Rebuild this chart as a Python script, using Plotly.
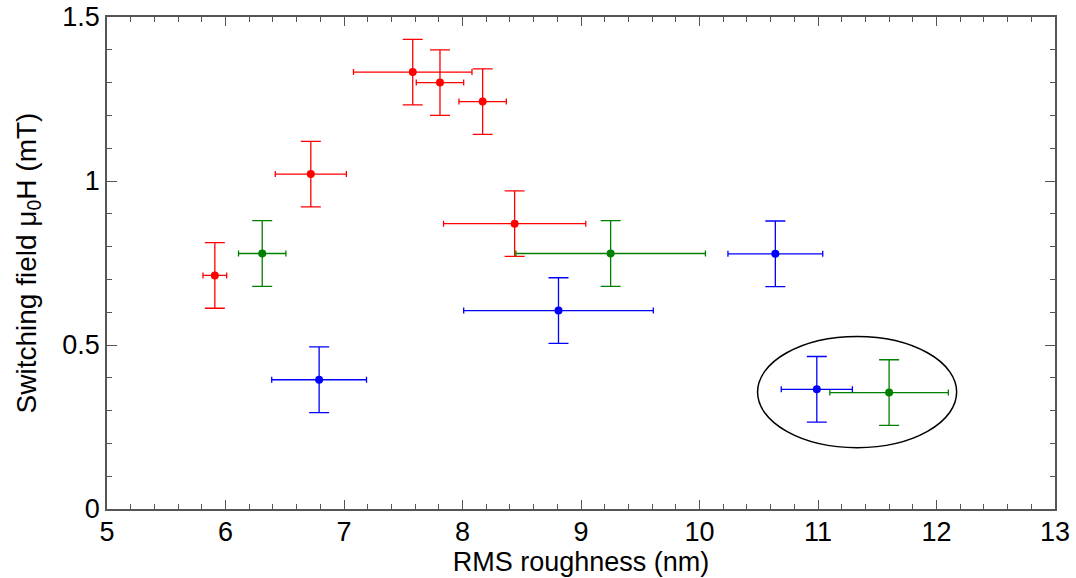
import plotly.graph_objects as go

# RMS roughness (nm) and switching field (mT) for three sample series
red_x = [5.91, 6.72, 7.58, 7.81, 8.17, 8.44]
red_y = [0.712, 1.021, 1.332, 1.300, 1.242, 0.870]
red_xerr = [0.10, 0.30, 0.50, 0.20, 0.20, 0.60]
red_yerr = [0.10, 0.10, 0.10, 0.10, 0.10, 0.10]

green_x = [6.31, 9.25, 11.60]
green_y = [0.779, 0.779, 0.355]
green_xerr = [0.20, 0.80, 0.50]
green_yerr = [0.10, 0.10, 0.10]

blue_x = [6.79, 8.81, 10.64, 10.99]
blue_y = [0.394, 0.605, 0.778, 0.365]
blue_xerr = [0.40, 0.80, 0.40, 0.30]
blue_yerr = [0.10, 0.10, 0.10, 0.10]

# Ellipse enclosing the two highest-roughness points
ellipse_x = [10.49, 12.17]
ellipse_y = [0.187, 0.526]

x_range = [5, 13]
y_range = [0, 1.5]
x_ticks = [5, 6, 7, 8, 9, 10, 11, 12, 13]
y_ticks = [0, 0.5, 1, 1.5]
y_ticklabels = ["0", "0.5", "1", "1.5"]

FONT = "Liberation Sans, Arial, sans-serif"
AXIS_GREY = "#555555"

fig = go.Figure()


def add_series(xs, ys, xe, ye, color):
    fig.add_trace(go.Scatter(
        x=xs, y=ys, mode="markers",
        marker=dict(color=color, size=8, line=dict(width=0)),
        error_x=dict(type="data", array=xe, visible=True, color=color,
                     thickness=1.3, width=3),
        error_y=dict(type="data", array=ye, visible=True, color=color,
                     thickness=1.3, width=10),
        showlegend=False,
        cliponaxis=False,
    ))


add_series(red_x, red_y, red_xerr, red_yerr, "#ff0000")
add_series(green_x, green_y, green_xerr, green_yerr, "#008000")
add_series(blue_x, blue_y, blue_xerr, blue_yerr, "#0000ff")

fig.add_shape(type="circle", xref="x", yref="y",
              x0=ellipse_x[0], x1=ellipse_x[1],
              y0=ellipse_y[0], y1=ellipse_y[1],
              line=dict(color="black", width=1.5))

axis_common = dict(
    showgrid=False, zeroline=False, automargin=False,
    showline=True, linecolor=AXIS_GREY, linewidth=1.5,
    mirror="allticks", ticks="inside", tickcolor=AXIS_GREY,
    tickwidth=1.3,
    tickfont=dict(family=FONT, size=27, color="black"),
)

fig.update_xaxes(
    range=x_range, tickvals=x_ticks, ticklen=9, ticklabelstandoff=-2,
    minor=dict(dtick=0.2, ticks="inside", ticklen=5, tickcolor=AXIS_GREY,
               tickwidth=1.2, showgrid=False),
    title=dict(text="RMS roughness (nm)", font=dict(family=FONT, size=27, color="black"),
               standoff=6),
    **axis_common,
)
fig.update_yaxes(
    range=y_range, tickvals=y_ticks, ticktext=y_ticklabels, ticklen=10,
    minor=dict(dtick=0.1, ticks="inside", ticklen=5, tickcolor=AXIS_GREY,
               tickwidth=1.2, showgrid=False),
    title=dict(text="Switching field μ<sub>0</sub>H (mT)",
               font=dict(family=FONT, size=28, color="black"), standoff=18),
    **axis_common,
)

fig.update_layout(
    width=1076, height=578,
    margin=dict(l=107, r=21, t=17, b=69),
    plot_bgcolor="white", paper_bgcolor="white",
    font=dict(family=FONT, color="black"),
)

fig.write_html("out.html")
